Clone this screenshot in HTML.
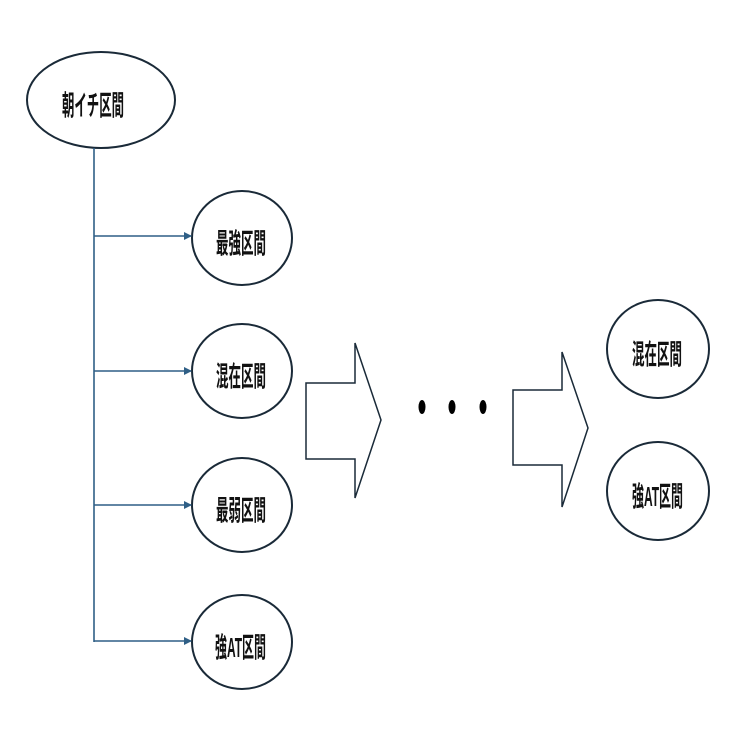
<!DOCTYPE html>
<html><head><meta charset="utf-8"><style>html,body{margin:0;padding:0;background:#fff}svg{display:block}</style></head>
<body>
<svg width="744" height="744" viewBox="0 0 744 744" xmlns="http://www.w3.org/2000/svg" font-family="'Liberation Sans','Noto Sans CJK JP',sans-serif" font-weight="bold">
<defs><marker id="a" markerWidth="8" markerHeight="8" refX="7" refY="4" orient="auto" markerUnits="userSpaceOnUse"><path d="M0,0 L8,4 L0,8 z" fill="#2f5f86"/></marker></defs>
<g fill="#fff" stroke="#1a2a38" stroke-width="2">
<ellipse cx="101" cy="100" rx="74" ry="48"/>
<ellipse cx="242" cy="238" rx="50" ry="47"/>
<ellipse cx="242" cy="371" rx="50" ry="47"/>
<ellipse cx="242" cy="505" rx="50" ry="47"/>
<ellipse cx="242" cy="642" rx="50" ry="47"/>
<ellipse cx="658" cy="349" rx="51" ry="49"/>
<ellipse cx="658" cy="491" rx="51" ry="49"/>
</g>
<g stroke="#2f5f86" stroke-width="1.6" fill="none">
<line x1="94" y1="148" x2="94" y2="642"/>
<line x1="94" y1="236" x2="191" y2="236" marker-end="url(#a)"/>
<line x1="94" y1="371" x2="191" y2="371" marker-end="url(#a)"/>
<line x1="94" y1="505" x2="191" y2="505" marker-end="url(#a)"/>
<line x1="94" y1="641" x2="191" y2="641" marker-end="url(#a)"/>
</g>
<g fill="#fff" stroke="#1a2a38" stroke-width="1.5">
<polygon points="306,383 355,383 355,343 381,420 355,498 355,459 306,459"/>
<polygon points="513,390 562,390 562,352 588,428 562,507 562,465 513,465"/>
</g>
<g fill="#000">
<ellipse cx="422" cy="407" rx="3.5" ry="7"/>
<ellipse cx="452" cy="407" rx="3.5" ry="7"/>
<ellipse cx="483" cy="407" rx="3.5" ry="7"/>
</g>
<g font-size="28" fill="#111">
<text x="62" y="115" textLength="62" lengthAdjust="spacingAndGlyphs">朝イチ区間</text>
<text x="216" y="253" textLength="50" lengthAdjust="spacingAndGlyphs">最強区間</text>
<text x="216" y="386" textLength="50" lengthAdjust="spacingAndGlyphs">混在区間</text>
<text x="216" y="520" textLength="50" lengthAdjust="spacingAndGlyphs">最弱区間</text>
<text x="215" y="657" textLength="51" lengthAdjust="spacingAndGlyphs">強AT区間</text>
<text x="632" y="364" textLength="50" lengthAdjust="spacingAndGlyphs">混在区間</text>
<text x="632" y="506" textLength="51" lengthAdjust="spacingAndGlyphs">強AT区間</text>
</g>
</svg>
</body></html>
